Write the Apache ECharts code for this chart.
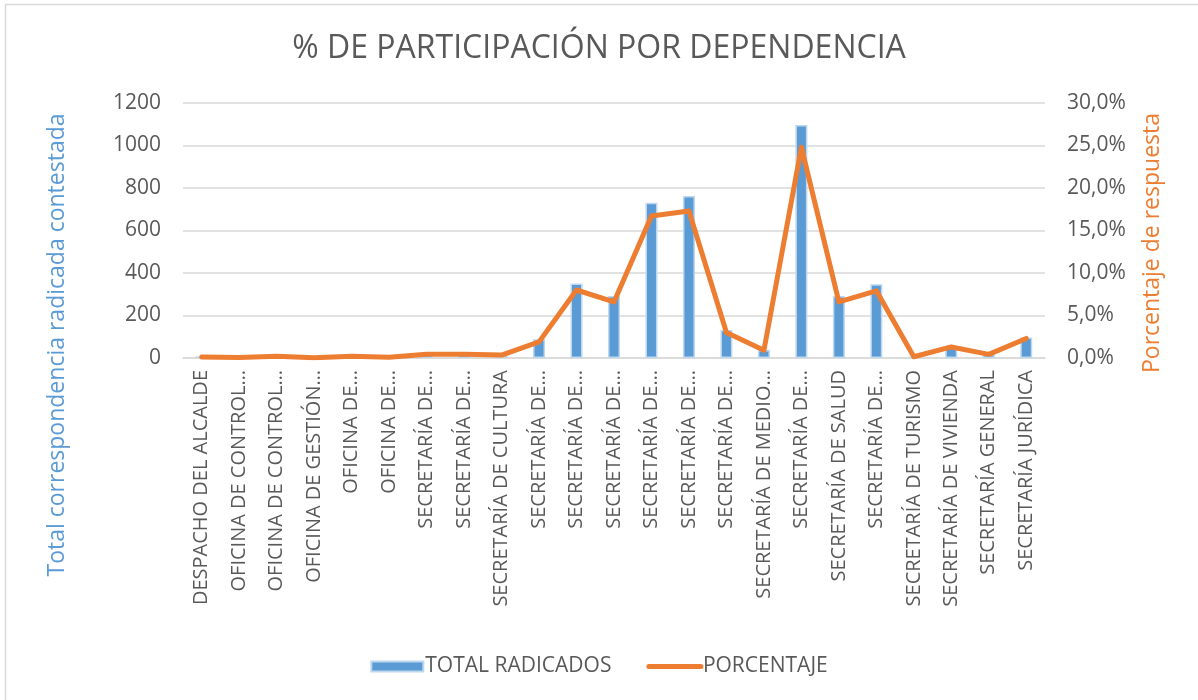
<!DOCTYPE html>
<html>
<head>
<meta charset="utf-8">
<script src="https://cdn.jsdelivr.net/npm/echarts@6/dist/echarts.min.js"></script>
<style>
  html, body { margin: 0; padding: 0; background: #fff; }
  #chart { width: 1198px; height: 700px; }
</style>
</head>
<body>
<div id="chart"></div>
<script>
const dependencias = [
  'DESPACHO DEL ALCALDE',
  'OFICINA DE CONTROL…',
  'OFICINA DE CONTROL…',
  'OFICINA DE GESTIÓN…',
  'OFICINA DE…',
  'OFICINA DE…',
  'SECRETARÍA DE…',
  'SECRETARÍA DE…',
  'SECRETARÍA DE CULTURA',
  'SECRETARÍA DE…',
  'SECRETARÍA DE…',
  'SECRETARÍA DE…',
  'SECRETARÍA DE…',
  'SECRETARÍA DE…',
  'SECRETARÍA DE…',
  'SECRETARÍA DE MEDIO…',
  'SECRETARÍA DE…',
  'SECRETARÍA DE SALUD',
  'SECRETARÍA DE…',
  'SECRETARÍA DE TURISMO',
  'SECRETARÍA DE VIVIENDA',
  'SECRETARÍA GENERAL',
  'SECRETARÍA JURÍDICA'
]
const totalRadicados = [8, 2, 9, 1, 9, 4, 19, 19, 15, 88, 351, 292, 731, 762, 132, 38, 1096, 292, 347, 5, 49, 19, 96]
const porcentaje = [0.12, 0.05, 0.2, 0.02, 0.2, 0.1, 0.43, 0.43, 0.35, 1.9, 8.0, 6.6, 16.7, 17.3, 3.0, 0.9, 24.8, 6.6, 7.9, 0.15, 1.3, 0.43, 2.3]

const font = '"Open Sans", "DejaVu Sans", sans-serif'
const gray = '#595959'

const chart = echarts.init(document.getElementById('chart'))
const option = {
  backgroundColor: '#ffffff',
  animation: false,
  title: {
    text: '% DE PARTICIPACIÓN POR DEPENDENCIA',
    left: 'center',
    top: 28,
    textStyle: { color: gray, fontFamily: font, fontSize: 32, fontWeight: 'normal' }
  },
  legend: {
    bottom: 18,
    left: 'center',
    itemGap: 35,
    itemWidth: 52,
    itemHeight: 10,
    textStyle: { color: gray, fontFamily: font, fontSize: 21, padding: [0, 0, 0, -3] },
    data: [
      { name: 'TOTAL RADICADOS', icon: 'rect' },
      {
        name: 'PORCENTAJE',
        itemStyle: { opacity: 0 },
        lineStyle: { width: 5, cap: 'round', color: '#ED7D31' }
      }
    ]
  },
  grid: { left: 183, right: 153, top: 103, height: 255 },
  graphic: [
    {
      type: 'rect',
      shape: { x: 5.5, y: 4.5, width: 1300, height: 800 },
      style: { fill: 'none', stroke: '#d9d9d9', lineWidth: 1.5 },
      silent: true
    },
    {
      type: 'text',
      x: 57,
      y: 345,
      rotation: Math.PI / 2,
      style: {
        text: 'Total correspondencia radicada contestada',
        fill: '#5B9BD5',
        font: '23px ' + font,
        align: 'center',
        verticalAlign: 'middle'
      }
    },
    {
      type: 'text',
      x: 1152,
      y: 243,
      rotation: Math.PI / 2,
      style: {
        text: 'Porcentaje de respuesta',
        fill: '#ED7D31',
        font: '23px ' + font,
        align: 'center',
        verticalAlign: 'middle'
      }
    }
  ],
  xAxis: {
    type: 'category',
    data: dependencias,
    axisLine: { lineStyle: { color: '#d9d9d9', width: 1.5 } },
    axisTick: { show: false },
    axisLabel: {
      interval: 0,
      rotate: 90,
      margin: 12,
      color: gray,
      fontFamily: font,
      fontSize: 20
    }
  },
  yAxis: [
    {
      type: 'value',
      min: 0,
      max: 1200,
      interval: 200,
      axisLine: { show: false },
      axisTick: { show: false },
      axisLabel: { color: gray, fontFamily: font, fontSize: 21, margin: 22, formatter: v => String(v) },
      splitLine: { lineStyle: { color: '#d9d9d9', width: 1.5 } }
    },
    {
      type: 'value',
      min: 0,
      max: 30,
      interval: 5,
      axisLine: { show: false },
      axisTick: { show: false },
      axisLabel: {
        color: gray,
        fontFamily: font,
        fontSize: 21,
        margin: 22,
        formatter: v => v.toFixed(1).replace('.', ',') + '%'
      },
      splitLine: { show: false }
    }
  ],
  series: [
    {
      name: 'TOTAL RADICADOS',
      type: 'bar',
      data: totalRadicados,
      barWidth: 12,
      itemStyle: { color: '#5B9BD5', borderColor: '#BDD7EE', borderWidth: 1.5 }
    },
    {
      name: 'PORCENTAJE',
      type: 'line',
      yAxisIndex: 1,
      data: porcentaje,
      symbol: 'none',
      lineStyle: { color: '#ED7D31', width: 5, cap: 'round', join: 'round' },
      itemStyle: { color: '#ED7D31' }
    }
  ]
}
chart.setOption(option)

window.onresize = () => {
  chart.resize()
}
</script>
</body>
</html>
